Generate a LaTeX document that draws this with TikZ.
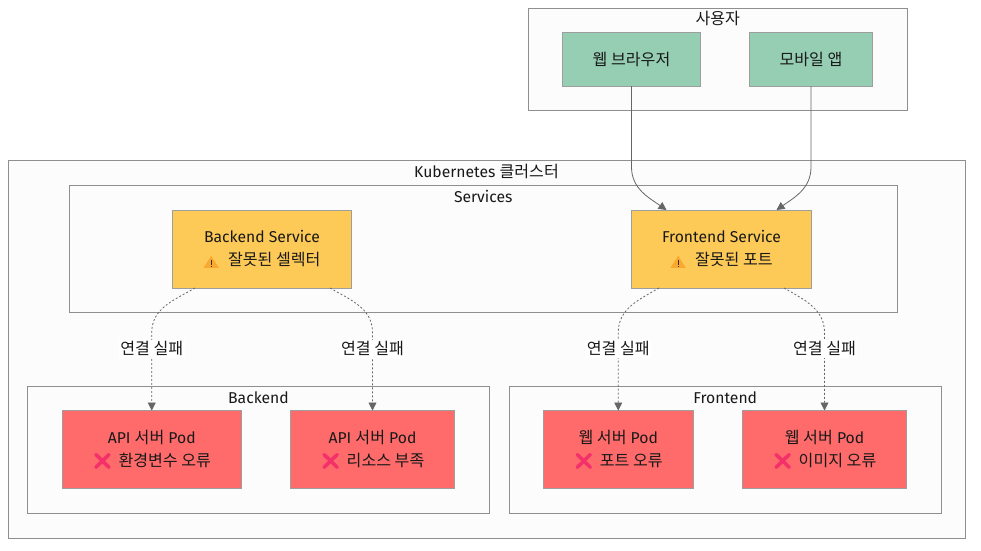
\documentclass[tikz,border=0pt]{standalone}
\usepackage{fontspec}
\setmainfont{Fira Sans}
\newfontfamily\ko[Scale=1.025]{Noto Sans CJK KR}
\newfontfamily\emoji[FakeBold=2.5]{Noto Emoji}
\usetikzlibrary{calc}
\usetikzlibrary{arrows.meta,positioning}
\definecolor{groupfill}{HTML}{FCFCFC}
\definecolor{groupline}{HTML}{8F8F8F}
\definecolor{nodeline}{HTML}{9E9E9E}
\definecolor{edgeline}{HTML}{666666}
\definecolor{clientfill}{HTML}{96CEB4}
\definecolor{svcfill}{HTML}{FECA57}
\definecolor{podfill}{HTML}{FF6B6B}
\definecolor{warnmark}{HTML}{FBA92E}
\definecolor{failmark}{HTML}{F4306A}
\tikzset{>={Stealth[inset=0pt,length=8pt,width=8pt]}}
\tikzset{
  txt/.style={font=\fontsize{15.7}{23}\selectfont, text=black!90},
  groupbox/.style={draw=groupline, fill=groupfill, line width=1pt, outer sep=0pt, inner sep=0pt},
  grouptitle/.style={txt, inner sep=0pt},
  clientbox/.style={txt, draw=nodeline, fill=clientfill, line width=1pt, outer sep=0pt, align=center},
  svcbox/.style={txt, draw=nodeline, fill=svcfill, line width=1pt, outer sep=0pt, align=center},
  podbox/.style={txt, draw=nodeline, fill=podfill, line width=1pt, outer sep=0pt, align=center},
  flow/.style={->, draw=edgeline, line width=0.8pt},
  failflow/.style={->, draw=edgeline, line width=0.8pt, dash pattern=on 2pt off 2pt},
  faillabel/.style={txt, fill=white, inner sep=1.5pt, solid}
}
\newcommand{\warnicon}{\tikz[x=1pt, y=1pt, baseline=0pt]{
    \fill [warnmark] (0, -2.5) -- (15.5, -2.5) -- (7.75, 9.5) -- cycle;
    \fill [black!80] (7.25, 0.5) rectangle (8.25, 5.5);
    \fill [black!80] (7.25, -1.2) rectangle (8.25, -0.2);
  }\hspace{5pt}}
\newcommand{\failicon}{{\color{failmark}\emoji ❌}\hspace{2pt}}

\begin{document}
\begin{tikzpicture}[x=1pt, y=-1pt]
  \useasboundingbox (0, 0) rectangle (981, 550);

  % groups
  \node [groupbox, minimum width=378.5pt, minimum height=102pt] (users) at (717.75, 59) {};
  \node [groupbox, minimum width=957pt, minimum height=377.5pt] (cluster) at (486.5, 349.25) {};
  \node [groupbox, minimum width=827.5pt, minimum height=127pt] (services) at (483.25, 248.5) {};
  \node [groupbox, minimum width=462pt, minimum height=127pt] (backend) at (258.5, 449.5) {};
  \node [groupbox, minimum width=432.5pt, minimum height=127pt] (frontend) at (725.25, 449.5) {};

  \node [grouptitle] (userstitle) at (717.75, 18.5) {\ko 사용자};
  \node [grouptitle] (clustertitle) at (486.5, 171.5) {Kubernetes {\ko 클러스터}};
  \node [grouptitle] (servicestitle) at (483.25, 196.5) {Services};
  \node [grouptitle] (backendtitle) at (258.5, 397.5) {Backend};
  \node [grouptitle] (frontendtitle) at (725.25, 397.5) {Frontend};

  % boxes
  \node [clientbox, minimum width=138pt, minimum height=53.5pt] (browser) at (631.5, 59.25) {\ko 웹 브라우저};
  \node [clientbox, minimum width=123pt, minimum height=53.5pt] (mobile) at (811, 59.25) {\ko 모바일 앱};

  \node [svcbox, minimum width=179pt, minimum height=78pt] (backsvc) at (262, 249) {Backend Service\\\warnicon{} {\ko 잘못된 셀렉터}};
  \node [svcbox, minimum width=180pt, minimum height=78pt] (frontsvc) at (721.5, 249) {Frontend Service\\\warnicon{} {\ko 잘못된 포트}};

  \node [podbox, minimum width=178.5pt, minimum height=77.5pt] (apipoda) at (151.75, 449.25) {API {\ko 서버} Pod\\\failicon{} {\ko 환경변수 오류}};
  \node [podbox, minimum width=164pt, minimum height=77.5pt] (apipodb) at (372.5, 449.25) {API {\ko 서버} Pod\\\failicon{} {\ko 리소스 부족}};
  \node [podbox, minimum width=149.5pt, minimum height=77.5pt] (webpoda) at (618.25, 449.25) {{\ko 웹 서버} Pod\\\failicon{} {\ko 포트 오류}};
  \node [podbox, minimum width=164pt, minimum height=77.5pt] (webpodb) at (824.5, 449.25) {{\ko 웹 서버} Pod\\\failicon{} {\ko 이미지 오류}};

  % user traffic
  \draw [flow] (browser.south) -- ([yshift=-81pt]browser.south) to [out=-90, in=145] ([xshift=-55pt]frontsvc.north);
  \draw [flow] (mobile.south) -- ([yshift=-81pt]mobile.south) to [out=-90, in=35] ([xshift=55pt]frontsvc.north);

  % broken links
  \draw [failflow] ([xshift=-67pt]backsvc.south) to [out=210, in=90] ([yshift=78pt]apipoda.north) -- node [faillabel, pos=0.21] (lbla) {\ko 연결 실패} (apipoda.north);
  \draw [failflow] ([xshift=68pt]backsvc.south) to [out=-30, in=90] ([yshift=78pt]apipodb.north) -- node [faillabel, pos=0.21] (lblb) {\ko 연결 실패} (apipodb.north);
  \draw [failflow] ([xshift=-62.5pt]frontsvc.south) to [out=210, in=90] ([yshift=78pt]webpoda.north) -- node [faillabel, pos=0.21] (lblc) {\ko 연결 실패} (webpoda.north);
  \draw [failflow] ([xshift=62.5pt]frontsvc.south) to [out=-30, in=90] ([yshift=78pt]webpodb.north) -- node [faillabel, pos=0.21] (lbld) {\ko 연결 실패} (webpodb.north);
\end{tikzpicture}
\end{document}
